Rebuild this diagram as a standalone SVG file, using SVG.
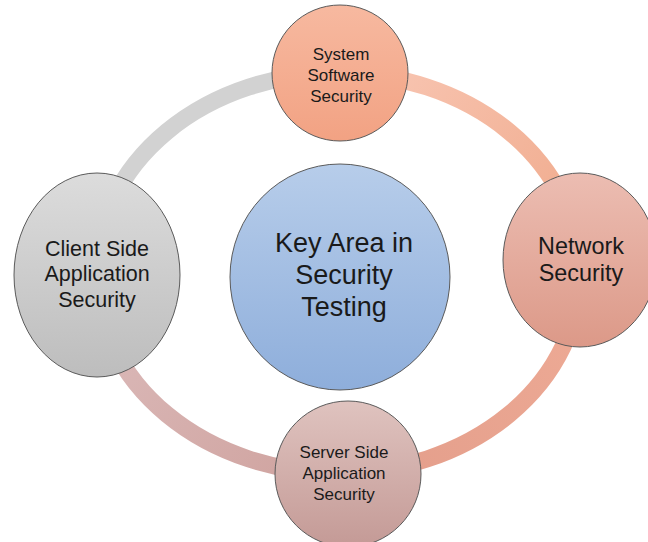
<svg xmlns="http://www.w3.org/2000/svg" width="648" height="542" viewBox="0 0 648 542">
<style>
.node{stroke:#5a5a5a;stroke-width:1}
.t{font-family:"Liberation Sans",Arial,sans-serif;fill:#1a1a1a;text-anchor:middle}
.ring{fill:none;stroke-width:17}
</style>
<defs>
<linearGradient id="gTop" x1="0" y1="0" x2="0" y2="1"><stop offset="0" stop-color="#f7b9a0"/><stop offset="1" stop-color="#f2a283"/></linearGradient>
<linearGradient id="gNet" x1="0" y1="0" x2="0" y2="1"><stop offset="0" stop-color="#ecbdb2"/><stop offset="1" stop-color="#dc9988"/></linearGradient>
<linearGradient id="gCli" x1="0" y1="0" x2="0" y2="1"><stop offset="0" stop-color="#dcdcdc"/><stop offset="1" stop-color="#bdbdbd"/></linearGradient>
<linearGradient id="gKey" x1="0" y1="0" x2="0" y2="1"><stop offset="0" stop-color="#b7cdea"/><stop offset="1" stop-color="#8eaedb"/></linearGradient>
<linearGradient id="gSrv" x1="0" y1="0" x2="0" y2="1"><stop offset="0" stop-color="#dfc3bf"/><stop offset="1" stop-color="#c49a96"/></linearGradient>
<linearGradient id="rTR" gradientUnits="userSpaceOnUse" x1="338" y1="73" x2="580" y2="273"><stop offset="0" stop-color="#f9c8b6"/><stop offset="1" stop-color="#efa889"/></linearGradient>
<linearGradient id="rRB" gradientUnits="userSpaceOnUse" x1="580" y1="273" x2="338" y2="473"><stop offset="0" stop-color="#eeab96"/><stop offset="1" stop-color="#e39d8a"/></linearGradient>
<linearGradient id="rBL" gradientUnits="userSpaceOnUse" x1="338" y1="473" x2="96" y2="273"><stop offset="0" stop-color="#cfa29e"/><stop offset="1" stop-color="#dcbcbc"/></linearGradient>
</defs>
<g id="connectors">
<path class="ring" stroke="#d2d2d2" d="M96 273 A242 200 0 0 1 338 73"/>
<path class="ring" stroke="url(#rTR)" d="M338 73 A242 200 0 0 1 580 273"/>
<path class="ring" stroke="url(#rRB)" d="M580 273 A242 200 0 0 1 338 473"/>
<path class="ring" stroke="url(#rBL)" d="M338 473 A242 200 0 0 1 96 273"/>
</g>
<g id="system">
<circle class="node" cx="340" cy="73" r="68" fill="url(#gTop)"/>
<text class="t" font-size="17"><tspan x="341" y="60">System</tspan><tspan x="341" y="81">Software</tspan><tspan x="341" y="102">Security</tspan></text>
</g>
<g id="network">
<ellipse class="node" cx="580" cy="260" rx="77" ry="87" fill="url(#gNet)"/>
<text class="t" font-size="23.4"><tspan x="581" y="253.5">Network</tspan><tspan x="581" y="280.5">Security</tspan></text>
</g>
<g id="client">
<ellipse class="node" cx="97" cy="275" rx="83" ry="102" fill="url(#gCli)"/>
<text class="t" font-size="21.5"><tspan x="97" y="256">Client Side</tspan><tspan x="97" y="281">Application</tspan><tspan x="97" y="306.5">Security</tspan></text>
</g>
<g id="key">
<ellipse class="node" cx="340" cy="277" rx="110" ry="113" fill="url(#gKey)"/>
<text class="t" font-size="27"><tspan x="344" y="252">Key Area in</tspan><tspan x="344" y="283.5">Security</tspan><tspan x="344" y="315.5">Testing</tspan></text>
</g>
<g id="server">
<circle class="node" cx="348" cy="474" r="73" fill="url(#gSrv)"/>
<text class="t" font-size="17"><tspan x="344" y="458">Server Side</tspan><tspan x="344" y="479">Application</tspan><tspan x="344" y="499.5">Security</tspan></text>
</g>
</svg>
